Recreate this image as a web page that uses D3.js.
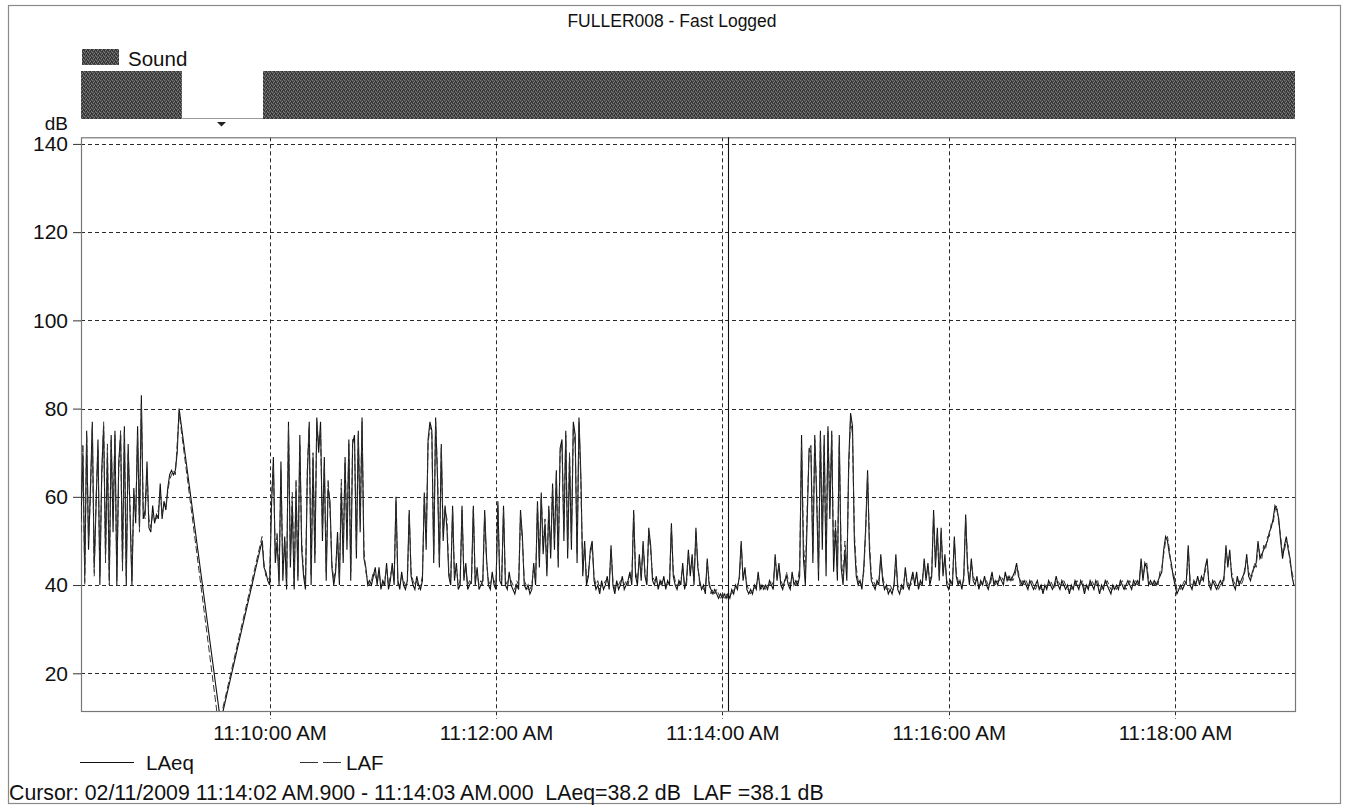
<!DOCTYPE html>
<html><head><meta charset="utf-8">
<script src="https://cdn.jsdelivr.net/npm/d3@7"></script>
<style>
html,body{margin:0;padding:0;background:#fff;}
svg{display:block;font-family:"Liberation Sans",Arial,Helvetica,sans-serif;}
</style></head><body>
<svg id="chart" width="1345" height="808"></svg>
<script>
// ---------------- data ----------------
const titleText = "FULLER008 - Fast Logged";
const dayStr = "2009-02-11";
const startClock = "11:08:20";      // first sample (second 0)
const endClock = "11:19:03.6";      // right edge of the time axis
const yTicks = [20, 40, 60, 80, 100, 120, 140];
const yDomain = [11.45, 141.5];
const xTickClocks = ["11:10:00", "11:12:00", "11:14:00", "11:16:00", "11:18:00"];
const xTickLabels = ["11:10:00 AM", "11:12:00 AM", "11:14:00 AM", "11:16:00 AM", "11:18:00 AM"];
const seriesNames = ["LAeq", "LAF"];
const soundLabel = "Sound";
const soundPeriods = [[0, 53.5], [96.5, 643.6]];   // seconds from start with "Sound" marker
const markerSecond = 74.5;
const cursorClock = "11:14:02.9";
const cursorText = "Cursor: 02/11/2009 11:14:02 AM.900 - 11:14:03 AM.000  LAeq=38.2 dB  LAF =38.1 dB";

// segment A: 1-s samples starting at second 0
const segAStart = 0;
const laeqA = [55,70,42,75,48,62,77,44,58,73, 40,66,76,47,70,41,74,52,75,40,
  68,74,45,76,40,72,56,40,62,54, 76,53,83,55,57,68,53,52,58,54,
  56,55,63,55,59,57,62,65,66,65, 66,70,80];
const lafA = [52,72,40,74,50,60,76,42,60,71, 42,64,77,45,72,40,73,55,74,41,
  66,75,43,75,42,70,58,41,60,56, 74,52,81,57,55,66,55,53,56,55,
  55,57,61,56,58,58,61,64,65,66, 65,72,79];
// gap samples [second, dB]
const laeqGap = [[74, 9]];
const lafGap = [[73, 8]];
// segment B: 1-s samples starting at second 96
const segBStart = 96;
const laeqB = [50,44,43,41,
  40,58,69,45,50,40,68,41,51,39, 77,44,59,39,62,41,74,48,42,39,
  65,77,40,69,45,78,70,77,50,69, 41,62,59,44,40,43,52,40,62,45,
  69,48,73,41,72,74,46,75,52,78, 46,44,40,41,40,42,44,40,44,39,
  41,40,45,39,41,45,40,60,41,39, 43,40,39,41,57,42,40,39,42,40,
  39,41,61,48,73,77,75,45,78,64, 44,72,50,58,53,42,40,58,41,45,
  39,40,58,41,45,39,40,41,58,40, 44,39,40,41,57,46,40,39,43,40,
  39,59,41,40,58,40,39,43,40,39, 38,40,39,57,51,40,39,40,38,39,
  45,40,59,44,61,47,54,42,58,46, 63,48,66,44,71,73,50,75,46,69,
  48,77,74,45,78,65,42,50,40,42, 48,50,41,39,40,38,41,39,40,42,
  39,49,40,38,41,39,40,42,39,40, 41,43,40,57,42,40,47,41,50,42,
  40,53,49,41,40,42,39,41,40,42, 39,41,40,54,42,40,39,41,40,45,
  39,41,48,42,47,40,53,44,41,39, 40,38,46,40,39,38,39,38,37,38,
  37,38,37,38,37,39,38,40,39,42, 50,41,44,39,38,39,38,40,39,43,
  39,40,39,40,39,41,40,39,47,41, 45,40,39,41,42,40,39,43,40,41,
  40,42,74,46,40,55,71,70,45,74, 60,41,75,48,74,42,76,55,75,43,
  53,41,74,44,40,48,41,68,79,76, 50,42,40,41,39,44,53,66,48,41,
  40,39,41,40,47,41,39,40,38,39, 38,40,47,39,38,40,39,44,40,39,
  41,43,40,43,39,41,40,46,41,45, 40,42,57,44,53,41,53,42,47,40,
  39,41,40,51,42,40,41,39,42,56, 44,40,46,41,40,42,39,41,40,42,
  40,39,41,43,40,41,40,42,41,40, 43,41,42,41,42,43,45,42,41,40,
  41,40,39,41,40,39,40,41,39,40, 38,40,39,41,40,39,40,42,40,39,
  41,40,39,40,38,40,39,41,40,39, 41,40,38,40,39,41,40,39,41,40,
  38,40,39,41,40,39,38,40,39,40, 39,41,40,39,40,41,40,39,41,40,
  41,40,46,41,45,44,40,41,40,41, 40,41,42,43,48,51,50,47,45,42,
  40,38,39,40,39,40,41,49,40,39, 41,40,42,40,42,41,44,46,40,39,
  41,40,39,40,41,40,42,49,44,48, 42,40,39,42,40,41,42,43,47,42,
  41,43,44,45,50,46,47,48,49,50, 52,53,55,58,57,55,50,46,49,51,
  48,46,42,40];
const lafB = [51,45,42,42,
  41,60,67,47,52,41,66,43,50,40, 76,46,61,40,64,42,72,50,43,40,
  67,76,42,70,47,77,72,75,52,67, 43,64,57,45,41,44,50,41,64,47,
  68,50,72,43,73,72,48,74,55,77, 48,43,41,40,41,43,42,41,43,40,
  40,41,44,40,42,44,41,59,40,40, 42,41,40,40,56,43,41,40,41,39,
  40,42,60,50,72,76,74,47,77,66, 45,71,52,57,55,43,41,57,42,44,
  40,41,57,42,44,40,41,40,57,41, 43,40,41,40,56,45,41,40,42,41,
  40,58,42,41,57,41,40,42,41,40, 39,41,40,56,50,41,40,39,39,40,
  44,41,58,46,60,49,55,44,57,48, 62,50,65,46,70,72,52,74,48,70,
  50,76,72,47,77,63,43,49,41,43, 47,49,42,40,41,39,40,40,41,41,
  40,48,41,39,40,40,41,41,40,41, 40,42,41,56,43,41,46,42,49,43,
  41,52,48,42,41,41,40,40,41,41, 40,40,41,53,43,41,40,40,41,44,
  40,40,47,43,46,41,52,45,40,40, 39,39,45,41,38,39,38,39,38,37,
  38,37,38,37,38,38,39,39,40,41, 49,42,43,40,39,38,39,39,40,42,
  40,39,40,39,40,40,41,40,46,42, 44,41,40,40,43,41,40,42,41,40,
  41,44,72,50,42,58,70,72,47,73, 62,43,74,52,72,45,75,58,74,46,
  55,43,72,47,41,50,43,66,78,74, 52,44,41,40,40,43,52,65,50,42,
  41,40,40,41,46,42,40,39,39,40, 39,39,46,40,39,39,40,43,41,40,
  40,42,41,42,40,40,41,45,42,44, 41,43,56,45,52,42,52,43,46,41,
  40,40,41,50,43,41,40,40,41,55, 45,41,45,42,41,41,40,40,41,41,
  41,40,40,42,41,40,41,41,42,41, 42,42,41,42,41,42,44,43,40,41,
  40,41,40,40,41,40,39,40,40,39, 39,39,40,40,41,40,39,41,41,40,
  40,41,40,39,39,39,40,40,41,40, 40,41,39,39,40,40,41,40,40,41,
  39,39,40,40,41,40,39,39,40,39, 40,40,41,40,39,40,41,40,40,41,
  40,41,45,42,44,45,41,40,41,40, 41,40,43,44,47,50,51,48,44,43,
  41,39,40,39,40,41,40,48,41,40, 40,41,41,41,41,42,43,45,41,40,
  40,41,40,39,40,41,41,48,45,47, 43,41,40,41,41,40,41,44,46,43,
  42,42,45,44,49,47,46,49,48,51, 51,54,54,57,58,54,51,47,48,50,
  49,45,43,41];

// ---------------- build ----------------
const parse = c => new Date(dayStr + "T" + c);
const t0 = parse(startClock), t1 = parse(endClock);
const at = s => new Date(t0.getTime() + s * 1000);
function build(a, gap, b) {
  return [
    ...a.map((v, i) => ({t: at(segAStart + i), v})),
    ...gap.map(([s, v]) => ({t: at(s), v})),
    ...b.map((v, i) => ({t: at(segBStart + i), v}))
  ];
}
const laeq = build(laeqA, laeqGap, laeqB);
const laf = build(lafA, lafGap, lafB);

const plot = {left: 81, right: 1295, top: 137.3, bottom: 711};
const x = d3.scaleTime().domain([t0, t1]).range([plot.left, plot.right]);
const y = d3.scaleLinear().domain(yDomain).range([plot.bottom, plot.top]);

const svg = d3.select("#chart");
const defs = svg.append("defs");
const pat = defs.append("pattern").attr("id", "dither").attr("patternUnits", "userSpaceOnUse")
  .attr("width", 4).attr("height", 4);
pat.append("rect").attr("width", 4).attr("height", 4).attr("fill", "#4a4a4a");
[[0,0],[2,1],[1,2],[3,3]].forEach(([a,b]) => pat.append("rect").attr("x", a).attr("y", b)
  .attr("width", 1).attr("height", 1).attr("fill", "#7a7a7a"));
[[2,3],[0,2],[3,1]].forEach(([a,b]) => pat.append("rect").attr("x", a).attr("y", b)
  .attr("width", 1).attr("height", 1).attr("fill", "#2a2a2a"));
defs.append("clipPath").attr("id", "plotclip").append("rect")
  .attr("x", plot.left).attr("y", plot.top)
  .attr("width", plot.right - plot.left).attr("height", plot.bottom - plot.top);

// outer frame
svg.append("rect").attr("x", 8.5).attr("y", 5.5).attr("width", 1332).attr("height", 798)
  .attr("fill", "none").attr("stroke", "#8a8a8a").attr("stroke-width", 1.2);

// title
svg.append("text").attr("x", 672).attr("y", 27).attr("text-anchor", "middle")
  .attr("font-size", 17.5).attr("fill", "#111").text(titleText);

// Sound legend + bar
svg.append("rect").attr("x", 82).attr("y", 49).attr("width", 37).attr("height", 16).attr("fill", "url(#dither)");
svg.append("text").attr("x", 128).attr("y", 66).attr("font-size", 20.5).attr("fill", "#111").text(soundLabel);
svg.append("line").attr("x1", x(at(soundPeriods[0][1]))).attr("x2", x(at(soundPeriods[1][0])))
  .attr("y1", 118.5).attr("y2", 118.5).attr("stroke", "#9a9a9a");
svg.selectAll("rect.sound").data(soundPeriods).join("rect").attr("class", "sound")
  .attr("x", d => x(at(d[0]))).attr("width", d => x(at(d[1])) - x(at(d[0])))
  .attr("y", 71).attr("height", 48).attr("fill", "url(#dither)");
const mx = x(at(markerSecond));
svg.append("path").attr("d", `M${mx-4.5},122 L${mx+4.5},122 L${mx},126.5 Z`).attr("fill", "#222");

// grid
const gridG = svg.append("g").attr("stroke", "#2a2a2a").attr("stroke-width", 1).attr("stroke-dasharray", "4,3").attr("fill", "none");
yTicks.forEach(v => gridG.append("line").attr("x1", plot.left).attr("x2", plot.right)
  .attr("y1", Math.round(y(v)) + 0.5).attr("y2", Math.round(y(v)) + 0.5));
xTickClocks.forEach(c => { const px = Math.round(x(parse(c))) + 0.5;
  gridG.append("line").attr("x1", px).attr("x2", px).attr("y1", plot.top).attr("y2", plot.bottom + 8); });

// plot border
svg.append("rect").attr("x", plot.left + 0.5).attr("y", plot.top + 0.5)
  .attr("width", plot.right - plot.left).attr("height", plot.bottom - plot.top)
  .attr("fill", "none").attr("stroke", "#777").attr("stroke-width", 1.2);

// y axis
const yAxis = d3.axisLeft(y).tickValues(yTicks).tickSize(8).tickPadding(5).tickFormat(d3.format("d"));
const yg = svg.append("g").attr("transform", `translate(${plot.left},0)`).call(yAxis);
yg.select(".domain").remove();
yg.selectAll(".tick line").attr("stroke", "#333");
yg.selectAll(".tick text").attr("font-size", 21).attr("fill", "#111")
  .attr("font-family", '"Liberation Sans",Arial,sans-serif');
svg.append("text").attr("x", 68).attr("y", 130).attr("text-anchor", "end")
  .attr("font-size", 19).attr("fill", "#111").text("dB");

// x axis labels
const xAxis = d3.axisBottom(x).tickValues(xTickClocks.map(parse)).tickSize(0).tickPadding(14)
  .tickFormat((d, i) => xTickLabels[i]);
const xg = svg.append("g").attr("transform", `translate(0,${plot.bottom})`).call(xAxis);
xg.select(".domain").remove();
xg.selectAll(".tick text").attr("font-size", 20.5).attr("fill", "#111")
  .attr("font-family", '"Liberation Sans",Arial,sans-serif');

// series
const line = d3.line().x(d => x(d.t)).y(d => y(d.v));
const lines = svg.append("g").attr("clip-path", "url(#plotclip)").attr("fill", "none");
lines.append("path").datum(laeq).attr("d", line).attr("stroke", "#111").attr("stroke-width", 1.1);
lines.append("path").datum(laf).attr("d", line).attr("stroke", "#333").attr("stroke-width", 1)
  .attr("stroke-dasharray", "7,3");

// cursor line
const cx = Math.round(x(parse(cursorClock))) + 0.5;
svg.append("line").attr("x1", cx).attr("x2", cx).attr("y1", plot.top).attr("y2", plot.bottom)
  .attr("stroke", "#111").attr("stroke-width", 1.1);

// legend
const lg = svg.append("g");
lg.append("line").attr("x1", 80).attr("x2", 134).attr("y1", 762.5).attr("y2", 762.5).attr("stroke", "#111");
lg.append("text").attr("x", 146).attr("y", 770).attr("font-size", 20.5).attr("fill", "#111").text(seriesNames[0]);
lg.append("line").attr("x1", 300).attr("x2", 341).attr("y1", 762.5).attr("y2", 762.5).attr("stroke", "#333")
  .attr("stroke-dasharray", "18,5");
lg.append("text").attr("x", 346).attr("y", 770).attr("font-size", 20.5).attr("fill", "#111").text(seriesNames[1]);

// cursor readout
svg.append("text").attr("x", 9).attr("y", 800).attr("font-size", 21.3).attr("fill", "#111")
  .style("white-space", "pre").text(cursorText);
</script>
</body></html>
